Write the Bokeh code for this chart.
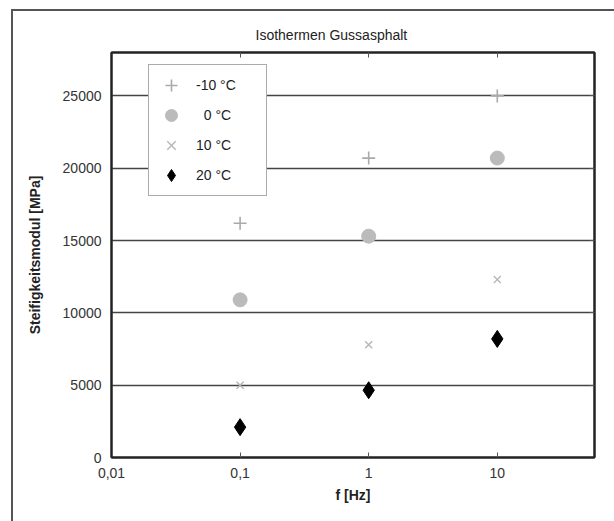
from bokeh.plotting import figure
from bokeh.models import (Range1d, FixedTicker, LinearAxis, LogAxis, Legend, LegendItem, Title)
from bokeh.embed import file_html
from bokeh.resources import INLINE

# ---- data ----
freq = [0.1, 1, 10]
m10 = [16200, 20700, 25000]   # -10 °C
t0 = [10900, 15300, 20700]    # 0 °C
t10 = [5000, 7800, 12300]     # 10 °C
t20 = [2100, 4650, 8200]      # 20 °C
x_ticks = [0.01, 0.1, 1, 10]
x_tick_labels = ["0,01", "0,1", "1", "10"]
y_ticks = [0, 5000, 10000, 15000, 20000, 25000]
series_labels = ["-10 °C", "\u20070 °C", "10 °C", "20 °C"]

FONT = "Liberation Sans"

p = figure(width=601, height=510, x_axis_type="log",
           x_range=Range1d(0.01, 57), y_range=Range1d(0, 28000),
           output_backend="svg", toolbar_location=None,
           min_border_left=98, min_border_right=20, min_border_top=41, min_border_bottom=64)
p.frame_width = 483
p.frame_height = 405
# outer chart-area border (top and left visible, as in the reference)
p.margin = (9, 0, 0, 11)
p.styles = {"border-top": "2px solid #555555", "border-left": "2px solid #555555",
            "border-right": "none", "border-bottom": "none", "outline": "none"}

p.title = Title(text="Isothermen Gussasphalt", align="left", offset=144,
                text_font=FONT, text_font_size="14px", text_font_style="normal",
                text_color="#222222", standoff=20)

p.outline_line_color = "#222222"
p.outline_line_width = 2
p.background_fill_color = "white"
p.border_fill_color = "white"

# grid
p.xgrid.visible = False
p.ygrid.ticker = FixedTicker(ticks=y_ticks)
p.ygrid.grid_line_color = "#444444"
p.ygrid.grid_line_width = 1.3

# bottom axis
xa = p.xaxis[0]
xa.ticker = FixedTicker(ticks=x_ticks, minor_ticks=[])
xa.major_label_overrides = {t: l for t, l in zip(x_ticks, x_tick_labels)}
xa.axis_label = "f [Hz]"
xa.axis_label_text_font = FONT
xa.axis_label_text_font_style = "bold"
xa.axis_label_text_font_size = "14px"
xa.axis_label_text_color = "#222222"
xa.axis_label_standoff = 6
xa.major_label_text_font = FONT
xa.major_label_text_font_size = "14px"
xa.major_label_text_color = "#333333"
xa.major_label_standoff = 10
xa.major_tick_in = 5
xa.major_tick_out = 0
xa.minor_tick_in = 0
xa.minor_tick_out = 0
xa.axis_line_color = "#222222"
xa.axis_line_width = 2
xa.major_tick_line_color = "#555555"

# left axis
ya = p.yaxis[0]
ya.ticker = FixedTicker(ticks=y_ticks, minor_ticks=[])
ya.axis_label = "Steifigkeitsmodul [MPa]"
ya.axis_label_text_font = FONT
ya.axis_label_text_font_style = "bold"
ya.axis_label_text_font_size = "14px"
ya.axis_label_text_color = "#222222"
ya.axis_label_standoff = 17
ya.major_label_text_font = FONT
ya.major_label_text_font_size = "14px"
ya.major_label_text_color = "#333333"
ya.major_label_standoff = 10
ya.major_tick_in = 0
ya.major_tick_out = 0
ya.minor_tick_in = 0
ya.minor_tick_out = 0
ya.axis_line_color = "#222222"
ya.axis_line_width = 2

# top axis with inward ticks
ta = LogAxis(ticker=FixedTicker(ticks=[0.1, 1, 10], minor_ticks=[]),
             major_label_text_font_size="0px", major_tick_in=5, major_tick_out=0,
             minor_tick_in=0, minor_tick_out=0, axis_line_color="#222222",
             axis_line_width=2, major_tick_line_color="#555555")
ta.major_label_text_alpha = 0
p.add_layout(ta, "above")

# right axis with inward ticks
ra = LinearAxis(ticker=FixedTicker(ticks=y_ticks[1:], minor_ticks=[]),
                major_label_text_font_size="0px", major_tick_in=5, major_tick_out=0,
                minor_tick_in=0, minor_tick_out=0, axis_line_color="#222222",
                axis_line_width=2, major_tick_line_color="#555555")
ra.major_label_text_alpha = 0
p.add_layout(ra, "right")

# data
r1 = p.scatter(freq, m10, marker="cross", size=13, line_color="#aaaaaa", line_width=1.6)
r2 = p.scatter(freq, t0, marker="circle", size=14, fill_color="#bbbbbb", line_color="#bbbbbb")
r3 = p.scatter(freq, t10, marker="x", size=10, line_color="#b5b5b5", line_width=1.4)
r4 = p.scatter(freq, t20, marker="diamond", size=17, fill_color="black", line_color="black")

legend = Legend(items=[LegendItem(label=series_labels[i], renderers=[r])
                       for i, r in enumerate([r1, r2, r3, r4])],
                location=(37, 261), orientation="vertical",
                label_text_font=FONT, label_text_font_size="14px",
                label_text_color="#222222",
                padding=5, spacing=0, glyph_width=34, glyph_height=30,
                label_height=30, label_width=65, label_standoff=8, margin=0,
                border_line_color="#555555", border_line_width=1.5,
                background_fill_color="white", background_fill_alpha=1)
p.add_layout(legend, "center")

open("out.html", "w").write(file_html(p, INLINE))
